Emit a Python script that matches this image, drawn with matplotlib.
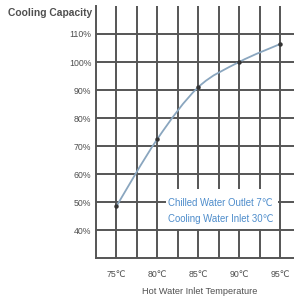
import matplotlib
matplotlib.use("Agg")
import matplotlib.pyplot as plt
from matplotlib.path import Path
from matplotlib.patches import PathPatch, Rectangle
import numpy as np

temps = [75, 80, 85, 90, 95]
capacity = [48.5, 72.5, 91, 100, 106.4]
xtick_labels = ["75℃", "80℃", "85℃", "90℃", "95℃"]
ytick_vals = [40, 50, 60, 70, 80, 90, 100, 110]
note_lines = ["Chilled Water Outlet 7℃", "Cooling Water Inlet 30℃"]

fam = ["Liberation Sans", "DejaVu Sans"]
gray = "#4f4f4f"
grid_c = "#555555"

fig = plt.figure(figsize=(2.94, 2.98), dpi=100)
ax = fig.add_axes([96 / 294, 40 / 298, 204.5 / 294, 252 / 298])
ax.set_xlim(72.5, 97.5)
ax.set_ylim(30, 120)

for x in np.arange(75, 97.6, 2.5):
    ax.axvline(x, color=grid_c, lw=1.4, zorder=1)
for y in ytick_vals:
    ax.axhline(y, color=grid_c, lw=1.4, zorder=1)
for s in ["top", "right"]:
    ax.spines[s].set_visible(False)
for s in ["left", "bottom"]:
    ax.spines[s].set_color(grid_c)
    ax.spines[s].set_linewidth(1.4)

# white box behind the note
ax.add_patch(Rectangle((81.0, 40.5), 13.8, 14.1, facecolor="white",
                       edgecolor="none", zorder=2))

# smooth curve through points (Catmull-Rom -> Bezier)
pts = np.column_stack([temps, capacity])
verts = [tuple(pts[0])]
codes = [Path.MOVETO]
for i in range(len(pts) - 1):
    p0 = pts[i - 1] if i > 0 else pts[i]
    p1, p2 = pts[i], pts[i + 1]
    p3 = pts[i + 2] if i + 2 < len(pts) else pts[i + 1]
    c1 = p1 + (p2 - p0) / 6
    c2 = p2 - (p3 - p1) / 6
    verts += [tuple(c1), tuple(c2), tuple(p2)]
    codes += [Path.CURVE4] * 3
ax.add_patch(PathPatch(Path(verts, codes), facecolor="none",
                       edgecolor="#8aa6bf", lw=1.3, zorder=3))
ax.plot(temps, capacity, "o", color="#333333", ms=2.2, zorder=4)

ax.text(81.3, 49.6, note_lines[0], color="#4d8ccb", fontsize=6.9,
        family=fam, va="center", ha="left", zorder=5)
ax.text(81.3, 43.9, note_lines[1], color="#4d8ccb", fontsize=6.9,
        family=fam, va="center", ha="left", zorder=5)

ax.set_xticks(temps)
ax.set_xticklabels(xtick_labels, family=fam, fontsize=6.3, color=gray)
ax.set_yticks(ytick_vals)
ax.set_yticklabels([f"{v}%" for v in ytick_vals], family=fam, fontsize=6.3,
                   color=gray)
ax.tick_params(length=0, pad=3.4)
ax.tick_params(axis="x", pad=8.5)

fig.text(200 / 294, 1 - 291 / 298, "Hot Water Inlet Temperature",
         family=fam, fontsize=6.6, color=gray, ha="center", va="center")
fig.text(92 / 294, 1 - 13 / 298, "Cooling Capacity", family=fam,
         fontsize=7.4, color=gray, ha="right", va="center", weight="bold")

fig.savefig("out.png", dpi=100)
